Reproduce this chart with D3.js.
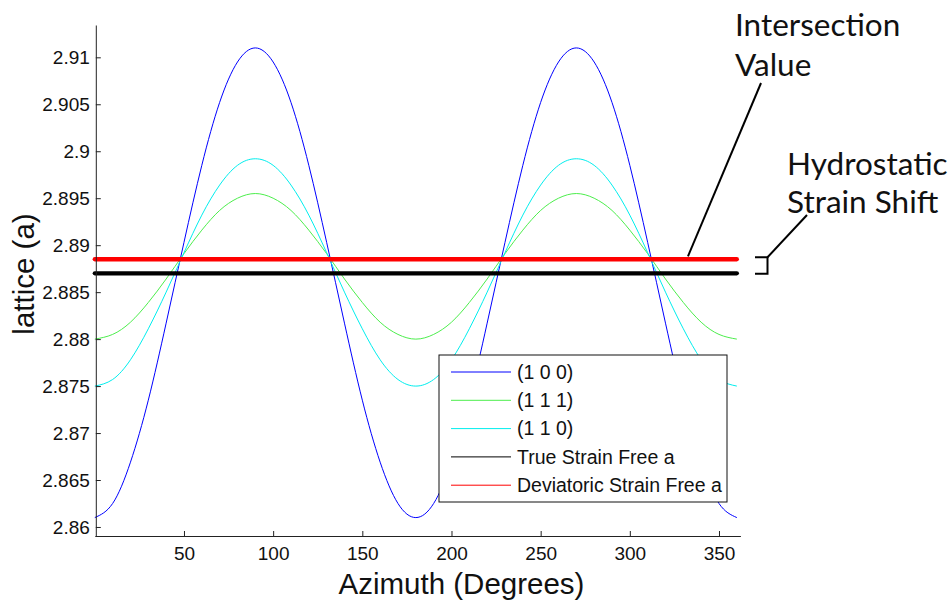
<!DOCTYPE html>
<html>
<head>
<meta charset="utf-8">
<script src="https://cdn.jsdelivr.net/npm/d3@7"></script>
<style>
  body { margin: 0; background: #fff; }
  svg { display: block; font-family: "Liberation Sans", Arial, sans-serif; }
</style>
</head>
<body>
<svg id="chart"></svg>
<script>
const angles = [0, 10, 20, 30, 40, 50, 60, 70, 80, 90, 100, 110, 120, 130, 140, 150, 160, 170, 180,
  190, 200, 210, 220, 230, 240, 250, 260, 270, 280, 290, 300, 310, 320, 330, 340, 350, 360];

// lattice parameter for each reflection
const lattice100 = [2.861, 2.8625, 2.8669, 2.8735, 2.8817, 2.8903, 2.8985, 2.9052, 2.9095, 2.911,
  2.9095, 2.9052, 2.8985, 2.8903, 2.8817, 2.8735, 2.8669, 2.8625, 2.861,
  2.8625, 2.8669, 2.8735, 2.8817, 2.8903, 2.8985, 2.9052, 2.9095, 2.911,
  2.9095, 2.9052, 2.8985, 2.8903, 2.8817, 2.8735, 2.8669, 2.8625, 2.861];
const lattice111 = [2.88, 2.8805, 2.8818, 2.8839, 2.8864, 2.8891, 2.8916, 2.8937, 2.895, 2.8955,
  2.895, 2.8937, 2.8916, 2.8891, 2.8864, 2.8839, 2.8818, 2.8805, 2.88,
  2.8805, 2.8818, 2.8839, 2.8864, 2.8891, 2.8916, 2.8937, 2.895, 2.8955,
  2.895, 2.8937, 2.8916, 2.8891, 2.8864, 2.8839, 2.8818, 2.8805, 2.88];
const lattice110 = [2.875, 2.8757, 2.8778, 2.8811, 2.885, 2.8892, 2.8932, 2.8964, 2.8985, 2.8992,
  2.8985, 2.8964, 2.8932, 2.8892, 2.885, 2.8811, 2.8778, 2.8757, 2.875,
  2.8757, 2.8778, 2.8811, 2.885, 2.8892, 2.8932, 2.8964, 2.8985, 2.8992,
  2.8985, 2.8964, 2.8932, 2.8892, 2.885, 2.8811, 2.8778, 2.8757, 2.875];

// horizontal reference values
const trueStrainFree = 2.887;
const deviatoricStrainFree = 2.8885;

const seriesNames = ["(1 0 0)", "(1 1 1)", "(1 1 0)", "True Strain Free a", "Deviatoric Strain Free a"];
const seriesColors = ["#0000ff", "#4cee4c", "#00eeee", "#000000", "#ff0000"];

const xTicks = [50, 100, 150, 200, 250, 300, 350];
const yTicks = [2.86, 2.865, 2.87, 2.875, 2.88, 2.885, 2.89, 2.895, 2.9, 2.905, 2.91];
const yTickLabels = ["2.86", "2.865", "2.87", "2.875", "2.88", "2.885", "2.89", "2.895", "2.9", "2.905", "2.91"];

const width = 948, height = 606;
const svg = d3.select("#chart").attr("width", width).attr("height", height);

// scales
const x = d3.scaleLinear().domain([0, 362]).range([94.8, 740.4]);
const y = d3.scaleLinear().domain([2.85904, 2.91344]).range([536, 25]);

// curves
const series = [lattice100, lattice111, lattice110];
const line = d3.line()
  .x((d, i) => x(angles[i]))
  .y(d => y(d))
  .curve(d3.curveNatural);

svg.selectAll(".curve")
  .data(series)
  .join("path")
  .attr("class", "curve")
  .attr("d", d => line(d))
  .attr("fill", "none")
  .attr("stroke", (d, i) => seriesColors[i])
  .attr("stroke-width", 1);

// strain free lines (black first, red on top)
svg.selectAll(".hline")
  .data([trueStrainFree, deviatoricStrainFree])
  .join("line")
  .attr("class", "hline")
  .attr("x1", x(0)).attr("x2", x(360))
  .attr("y1", d => y(d)).attr("y2", d => y(d))
  .attr("stroke", (d, i) => seriesColors[3 + i])
  .attr("stroke-width", 4.3)
  .attr("stroke-linecap", "round");

// axes - left and bottom only, ticks pointing inward
const xAxis = svg.append("g")
  .attr("transform", `translate(0,${y.range()[0]})`)
  .call(d3.axisBottom(x).tickValues(xTicks).tickSize(-5).tickSizeOuter(0).tickPadding(11));
const yAxis = svg.append("g")
  .attr("transform", `translate(${x.range()[0] + 1},0)`)
  .call(d3.axisLeft(y).tickValues(yTicks).tickFormat((d, i) => yTickLabels[i]).tickSize(-5).tickSizeOuter(0).tickPadding(6));

[xAxis, yAxis].forEach(g => {
  g.select(".domain").attr("stroke", "#222");
  g.selectAll(".tick line").attr("stroke", "#222");
  g.selectAll(".tick text").attr("fill", "#111").style("font-size", "19px")
    .style("font-family", "'Liberation Sans', Arial, sans-serif");
});

// axis titles
svg.append("text")
  .attr("x", 461.5).attr("y", 594)
  .attr("text-anchor", "middle")
  .style("font-size", "29.5px")
  .attr("fill", "#111")
  .text("Azimuth (Degrees)");

svg.append("text")
  .attr("transform", "translate(34,274) rotate(-90)")
  .attr("text-anchor", "middle")
  .style("font-size", "29.5px")
  .attr("fill", "#111")
  .text("lattice (a)");

// legend
const legend = svg.append("g").attr("transform", "translate(439,355)");
legend.append("rect")
  .attr("width", 288).attr("height", 147)
  .attr("fill", "#fff").attr("stroke", "#111").attr("stroke-width", 1);

const rows = legend.selectAll(".row")
  .data(seriesNames)
  .join("g")
  .attr("class", "row")
  .attr("transform", (d, i) => `translate(0,${17 + i * 28.3})`);
rows.append("line")
  .attr("x1", 12).attr("x2", 72)
  .attr("stroke", (d, i) => seriesColors[i])
  .attr("stroke-width", 1);
rows.append("text")
  .attr("x", 78).attr("dy", "0.35em")
  .style("font-size", "19.5px")
  .attr("fill", "#111")
  .text(d => d);

// annotations
const note = svg.append("g")
  .style("font-family", "Lato, 'Open Sans', sans-serif")
  .style("font-size", "31.5px")
  .attr("fill", "#111");
note.append("text").attr("x", 735).attr("y", 36).text("Intersection");
note.append("text").attr("x", 735).attr("y", 76).text("Value");
note.append("text").attr("x", 787).attr("y", 175).text("Hydrostatic");
note.append("text").attr("x", 787).attr("y", 213).text("Strain Shift");

// leader to the red line
svg.append("line")
  .attr("x1", 761).attr("y1", 83)
  .attr("x2", x(332.6)).attr("y2", y(deviatoricStrainFree) - 3)
  .attr("stroke", "#000").attr("stroke-width", 2);

// bracket spanning the two reference lines
const bTop = y(deviatoricStrainFree) - 2, bBot = y(trueStrainFree) + 0.5;
svg.append("path")
  .attr("d", `M755,${bTop}H767.5V${bBot}H755`)
  .attr("fill", "none").attr("stroke", "#000").attr("stroke-width", 2);
svg.append("line")
  .attr("x1", 807).attr("y1", 215)
  .attr("x2", 767.5).attr("y2", bTop)
  .attr("stroke", "#000").attr("stroke-width", 2);
</script>
</body>
</html>
